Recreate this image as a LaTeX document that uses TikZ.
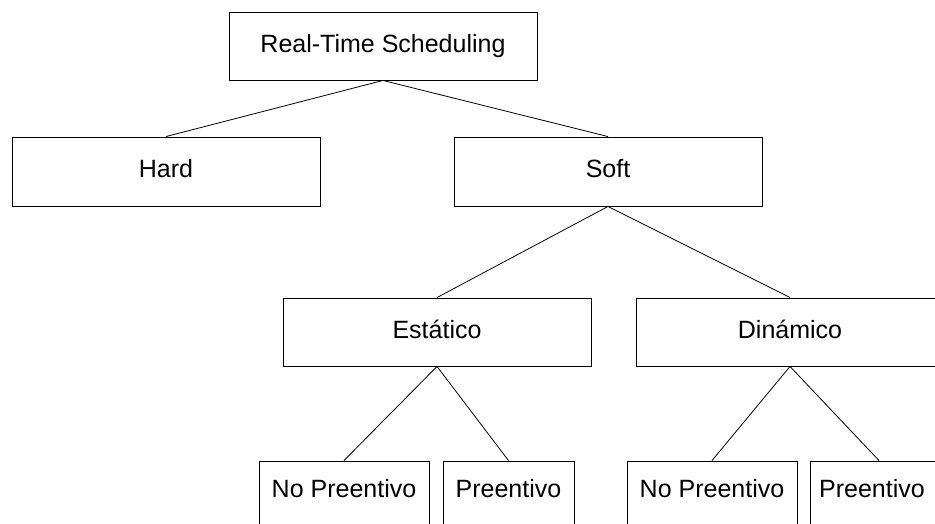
\documentclass[tikz,border=0pt]{standalone}
\usepackage{fontspec}
\setmainfont{Liberation Sans}
\begin{document}
\begin{tikzpicture}[x=1pt,y=-1pt,
  box/.style={draw=black,line width=0.9pt,rectangle,inner sep=0pt,font=\fontsize{25}{29}\selectfont,fill=white,text height=18pt,text depth=5pt},
  wide/.style={box,minimum width=308pt,minimum height=68pt},
  small/.style={box,minimum height=68pt,text depth=14pt},
  link/.style={draw=black,line width=0.8pt}]
\useasboundingbox (0,0) rectangle (935,524);
\clip (0,0) rectangle (935,524);
\fill[white] (0,0) rectangle (935,524);
\node[wide] (root) at (383,46) {Real-Time Scheduling};
\node[wide,minimum height=69pt] (hard) at (166,171.5) {Hard};
\node[wide,minimum height=69pt] (soft) at (608,171.5) {Soft};
\node[wide] (est) at (437,332) {Estático};
\node[wide] (din) at (790,332) {Dinámico};
\node[small,minimum width=170pt] (np1) at (344,495) {No Preentivo};
\node[small,minimum width=131pt] (p1) at (508.5,495) {Preentivo};
\node[small,minimum width=170pt] (np2) at (712,495) {No Preentivo};
\node[small,minimum width=138pt] (p2) at (879,495) {\hspace*{-14pt}Preentivo};
\draw[link] (root.south) -- (hard.north);
\draw[link] (root.south) -- (soft.north);
\draw[link] (soft.south) -- (est.north);
\draw[link] (soft.south) -- (din.north);
\draw[link] (est.south) -- (np1.north);
\draw[link] (est.south) -- (p1.north);
\draw[link] (din.south) -- (np2.north);
\draw[link] (din.south) -- (p2.north);
\end{tikzpicture}
\end{document}
